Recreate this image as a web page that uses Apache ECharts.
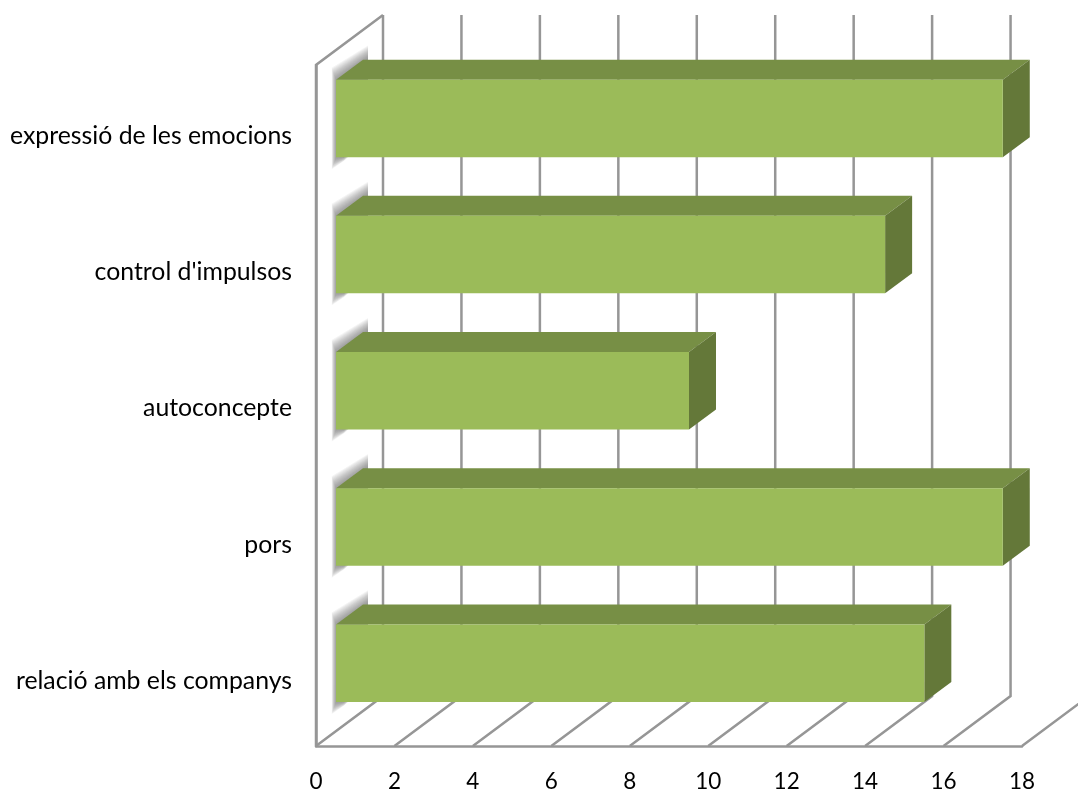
<!DOCTYPE html>
<html><head><meta charset="utf-8">
<style>html,body{margin:0;padding:0;background:#fff}#c{width:1078px;height:792px}</style>
<script src="https://cdn.jsdelivr.net/npm/echarts@6/dist/echarts.min.js"></script>
</head><body><div id="c"></div>
<script>
const categories = ["expressió de les emocions","control d'impulsos","autoconcepte","pors","relació amb els companys"];
const values = [17,14,9,17,15];
const xTicks = [0,2,4,6,8,10,12,14,16,18];
const wallDX = 67, wallDY = -50;
const barDX = 27, barDY = -20, barInsetX = 20, barShiftY = -14.7, barH = 77.5;
const LINE = '#969696', FRONT = '#9BBB59', TOP = '#778F45', SIDE = '#647839';
const chart = echarts.init(document.getElementById('c'), null, {renderer:'canvas'});
chart.setOption({
  animation:false,
  grid:{left:316,right:56,top:65,bottom:46,containLabel:false,outerBoundsMode:'none'},
  xAxis:{type:'value',min:0,max:18,interval:2,splitLine:{show:false},axisTick:{show:false},
    axisLine:{show:true,lineStyle:{color:LINE,width:2.5}},
    axisLabel:{color:'#000',fontFamily:'Lato',fontSize:22.5,margin:24,showMaxLabel:true,showMinLabel:true}},
  yAxis:{type:'category',data:categories,inverse:true,axisTick:{show:false},
    axisLine:{show:true,lineStyle:{color:LINE,width:2.5}},
    axisLabel:{color:'#000',fontFamily:'Lato',fontSize:24.8,margin:24,verticalAlign:'top',lineHeight:6}},
  series:[
    {type:'custom',silent:true,z:1,clip:false,
     data:xTicks.map(t=>[t]),encode:{x:0},
     renderItem(params,api){
       const c=params.coordSys, x=api.coord([api.value(0),0])[0], b=c.y+c.height, t=c.y;
       const shapes=[{type:'polyline',shape:{points:[[x,b],[x+wallDX,b+wallDY],[x+wallDX,t+wallDY]]},style:{stroke:LINE,lineWidth:2.5,fill:null}}];
       if(api.value(0)===0) shapes.push({type:'polyline',shape:{points:[[x,b],[x,t],[x+wallDX,t+wallDY]]},style:{stroke:LINE,lineWidth:2.5,fill:null}});
       return {type:'group',children:shapes};
     }},
    {type:'custom',silent:true,z:2,clip:false,
     data:values.map((v,i)=>[v,i]),encode:{x:0,y:1},
     renderItem(params,api){
       const p=api.coord([api.value(0),api.value(1)]), o=api.coord([0,api.value(1)]);
       const l=o[0]+barInsetX, r=p[0]+barInsetX, t=p[1]+barShiftY-barH/2, b=t+barH;
       const poly=(pts,fill,extra)=>({type:'polygon',shape:{points:pts},style:Object.assign({fill},extra||{})});
       // soft wall shadow: nested translucent layers, widest first
       const glow=[];
       for(let k=12;k>=0;k--){
         glow.push(poly([[l-k*0.35,t-k],[l+barDX+8,t+barDY-k-4],[l+barDX+8,b+barDY],[l+8,b+barDY+20+k*0.3],[l-k*0.35,b+k]],'rgba(90,90,90,0.065)'));
       }
       return {type:'group',children:[
         {type:'group',
          clipPath:{type:'rect',shape:{x:l-8,y:t-60,width:40,height:barH+100}},
          children:glow},
         poly([[l,t],[l+barDX,t+barDY],[r+barDX,t+barDY],[r,t]],TOP),
         poly([[r,t],[r+barDX,t+barDY],[r+barDX,b+barDY],[r,b]],SIDE),
         {type:'rect',shape:{x:l,y:t,width:r-l,height:barH},style:{fill:FRONT}}
       ]};
     }}
  ]
});
</script></body></html>
